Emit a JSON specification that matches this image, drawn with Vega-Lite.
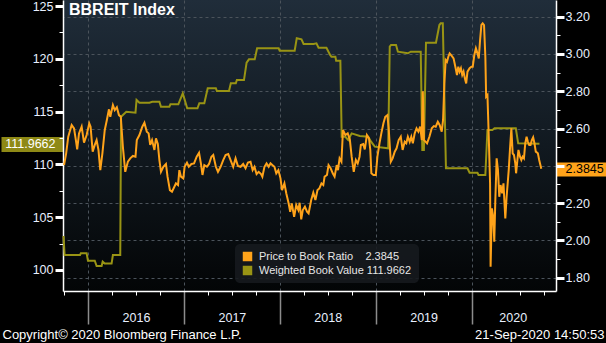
{
  "$schema": "https://vega.github.io/schema/vega-lite/v6.json",
  "width": 493,
  "height": 291,
  "autosize": {"type": "none"},
  "padding": {"left": 63, "top": 0, "right": 50, "bottom": 52},
  "background": "#000000",
  "title": {"text": "BBREIT Index", "anchor": "start", "frame": "group", "orient": "top", "offset": -31, "baseline": "alphabetic", "dx": 6, "color": "#ffffff", "font": "Liberation Sans", "fontSize": 16, "fontWeight": "bold"},
  "datasets": {
    "book": [
      {"date": "2015-09-29", "value": 103.22}, {"date": "2015-10-03", "value": 101.42}, {"date": "2015-12-01", "value": 101.42},
      {"date": "2015-12-04", "value": 101.58}, {"date": "2015-12-26", "value": 101.58}, {"date": "2015-12-31", "value": 100.88},
      {"date": "2016-01-26", "value": 100.88}, {"date": "2016-02-02", "value": 100.38}, {"date": "2016-02-21", "value": 100.38},
      {"date": "2016-02-25", "value": 100.79}, {"date": "2016-03-04", "value": 100.61}, {"date": "2016-03-30", "value": 100.61},
      {"date": "2016-04-04", "value": 101.42}, {"date": "2016-05-02", "value": 101.42}, {"date": "2016-05-05", "value": 114.52},
      {"date": "2016-05-25", "value": 114.99}, {"date": "2016-06-29", "value": 114.90}, {"date": "2016-07-03", "value": 116.10},
      {"date": "2016-07-14", "value": 115.84}, {"date": "2016-08-21", "value": 115.84}, {"date": "2016-09-01", "value": 115.93},
      {"date": "2016-09-28", "value": 115.93}, {"date": "2016-10-04", "value": 115.46}, {"date": "2016-11-05", "value": 115.46},
      {"date": "2016-11-09", "value": 115.69}, {"date": "2016-12-09", "value": 115.69}, {"date": "2016-12-26", "value": 116.73},
      {"date": "2017-01-12", "value": 115.31}, {"date": "2017-02-20", "value": 115.31}, {"date": "2017-02-27", "value": 115.79},
      {"date": "2017-03-18", "value": 115.79}, {"date": "2017-03-31", "value": 117.21}, {"date": "2017-05-01", "value": 117.21},
      {"date": "2017-05-05", "value": 116.95}, {"date": "2017-06-20", "value": 116.95}, {"date": "2017-06-27", "value": 117.68},
      {"date": "2017-07-16", "value": 117.68}, {"date": "2017-07-20", "value": 117.99}, {"date": "2017-08-16", "value": 117.99},
      {"date": "2017-08-26", "value": 119.63}, {"date": "2017-09-04", "value": 119.95}, {"date": "2017-09-26", "value": 119.95},
      {"date": "2017-10-05", "value": 120.99}, {"date": "2017-12-26", "value": 120.99}, {"date": "2017-12-30", "value": 120.77},
      {"date": "2018-02-25", "value": 120.77}, {"date": "2018-03-05", "value": 121.94}, {"date": "2018-03-23", "value": 121.84},
      {"date": "2018-03-31", "value": 121.40}, {"date": "2018-05-08", "value": 121.40}, {"date": "2018-05-19", "value": 121.46},
      {"date": "2018-05-27", "value": 121.05}, {"date": "2018-06-26", "value": 121.05}, {"date": "2018-07-10", "value": 120.36},
      {"date": "2018-07-15", "value": 120.20}, {"date": "2018-07-30", "value": 120.20}, {"date": "2018-08-02", "value": 119.82},
      {"date": "2018-08-18", "value": 119.82}, {"date": "2018-08-23", "value": 112.62}, {"date": "2018-09-06", "value": 112.62},
      {"date": "2018-09-17", "value": 112.31}, {"date": "2018-09-30", "value": 112.94}, {"date": "2018-10-31", "value": 112.69},
      {"date": "2018-12-02", "value": 112.62}, {"date": "2018-12-13", "value": 112.15}, {"date": "2018-12-27", "value": 111.68},
      {"date": "2019-02-16", "value": 111.52}, {"date": "2019-02-22", "value": 121.15}, {"date": "2019-02-27", "value": 121.31},
      {"date": "2019-03-18", "value": 121.31}, {"date": "2019-03-25", "value": 120.67}, {"date": "2019-05-02", "value": 120.52},
      {"date": "2019-05-13", "value": 120.67}, {"date": "2019-06-20", "value": 120.67}, {"date": "2019-06-26", "value": 111.36},
      {"date": "2019-07-02", "value": 111.36}, {"date": "2019-07-10", "value": 121.52}, {"date": "2019-08-17", "value": 121.52},
      {"date": "2019-08-30", "value": 123.20}, {"date": "2019-09-04", "value": 123.36}, {"date": "2019-09-12", "value": 123.36},
      {"date": "2019-09-24", "value": 109.63}, {"date": "2019-12-15", "value": 109.63}, {"date": "2019-12-23", "value": 109.21},
      {"date": "2020-01-22", "value": 109.21}, {"date": "2020-01-26", "value": 109.00}, {"date": "2020-02-21", "value": 109.00},
      {"date": "2020-02-29", "value": 113.26}, {"date": "2020-03-19", "value": 113.26}, {"date": "2020-03-27", "value": 113.42},
      {"date": "2020-06-16", "value": 113.42}, {"date": "2020-06-25", "value": 112.00}, {"date": "2020-09-14", "value": 111.9662}
    ],
    "ptb": [
      {"date": "2015-10-01", "value": 2.404}, {"date": "2015-10-09", "value": 2.467}, {"date": "2015-10-17", "value": 2.556},
      {"date": "2015-10-30", "value": 2.619}, {"date": "2015-11-08", "value": 2.601}, {"date": "2015-11-15", "value": 2.538},
      {"date": "2015-11-20", "value": 2.488}, {"date": "2015-11-27", "value": 2.574}, {"date": "2015-12-07", "value": 2.610},
      {"date": "2015-12-16", "value": 2.524}, {"date": "2015-12-26", "value": 2.565}, {"date": "2016-01-05", "value": 2.628},
      {"date": "2016-01-10", "value": 2.610}, {"date": "2016-01-18", "value": 2.476}, {"date": "2016-01-26", "value": 2.512},
      {"date": "2016-02-02", "value": 2.538}, {"date": "2016-02-09", "value": 2.485}, {"date": "2016-02-16", "value": 2.377},
      {"date": "2016-02-24", "value": 2.467}, {"date": "2016-03-04", "value": 2.592}, {"date": "2016-03-12", "value": 2.646},
      {"date": "2016-03-20", "value": 2.703}, {"date": "2016-03-25", "value": 2.663}, {"date": "2016-04-04", "value": 2.726},
      {"date": "2016-04-11", "value": 2.699}, {"date": "2016-04-19", "value": 2.714}, {"date": "2016-04-27", "value": 2.672},
      {"date": "2016-05-04", "value": 2.663}, {"date": "2016-05-12", "value": 2.502}, {"date": "2016-05-21", "value": 2.368},
      {"date": "2016-05-31", "value": 2.422}, {"date": "2016-06-09", "value": 2.440}, {"date": "2016-06-19", "value": 2.453},
      {"date": "2016-06-29", "value": 2.449}, {"date": "2016-07-04", "value": 2.538}, {"date": "2016-07-14", "value": 2.565},
      {"date": "2016-07-25", "value": 2.610}, {"date": "2016-08-02", "value": 2.631}, {"date": "2016-08-11", "value": 2.583},
      {"date": "2016-08-18", "value": 2.574}, {"date": "2016-08-24", "value": 2.512}, {"date": "2016-08-31", "value": 2.538},
      {"date": "2016-09-09", "value": 2.485}, {"date": "2016-09-15", "value": 2.547}, {"date": "2016-09-22", "value": 2.517},
      {"date": "2016-09-28", "value": 2.431}, {"date": "2016-10-04", "value": 2.368}, {"date": "2016-10-13", "value": 2.395},
      {"date": "2016-10-23", "value": 2.410}, {"date": "2016-10-29", "value": 2.342}, {"date": "2016-11-07", "value": 2.270},
      {"date": "2016-11-15", "value": 2.261}, {"date": "2016-11-24", "value": 2.288}, {"date": "2016-11-30", "value": 2.306},
      {"date": "2016-12-08", "value": 2.297}, {"date": "2016-12-13", "value": 2.377}, {"date": "2016-12-19", "value": 2.342},
      {"date": "2016-12-28", "value": 2.333}, {"date": "2017-01-02", "value": 2.395}, {"date": "2017-01-11", "value": 2.417},
      {"date": "2017-01-18", "value": 2.395}, {"date": "2017-01-28", "value": 2.410}, {"date": "2017-02-07", "value": 2.413},
      {"date": "2017-02-17", "value": 2.449}, {"date": "2017-02-26", "value": 2.470}, {"date": "2017-03-05", "value": 2.413},
      {"date": "2017-03-11", "value": 2.351}, {"date": "2017-03-18", "value": 2.404}, {"date": "2017-03-28", "value": 2.395},
      {"date": "2017-04-05", "value": 2.410}, {"date": "2017-04-14", "value": 2.449}, {"date": "2017-04-21", "value": 2.458},
      {"date": "2017-05-01", "value": 2.395}, {"date": "2017-05-09", "value": 2.368}, {"date": "2017-05-19", "value": 2.395},
      {"date": "2017-05-29", "value": 2.431}, {"date": "2017-06-07", "value": 2.458}, {"date": "2017-06-17", "value": 2.463},
      {"date": "2017-06-26", "value": 2.431}, {"date": "2017-07-06", "value": 2.395}, {"date": "2017-07-15", "value": 2.440},
      {"date": "2017-07-24", "value": 2.399}, {"date": "2017-08-03", "value": 2.395}, {"date": "2017-08-13", "value": 2.410},
      {"date": "2017-08-22", "value": 2.387}, {"date": "2017-08-31", "value": 2.417}, {"date": "2017-09-10", "value": 2.422},
      {"date": "2017-09-18", "value": 2.377}, {"date": "2017-09-25", "value": 2.395}, {"date": "2017-10-03", "value": 2.356},
      {"date": "2017-10-11", "value": 2.368}, {"date": "2017-10-20", "value": 2.356}, {"date": "2017-10-25", "value": 2.342},
      {"date": "2017-11-02", "value": 2.395}, {"date": "2017-11-10", "value": 2.413}, {"date": "2017-11-18", "value": 2.395},
      {"date": "2017-11-25", "value": 2.413}, {"date": "2017-12-02", "value": 2.404}, {"date": "2017-12-10", "value": 2.395},
      {"date": "2017-12-17", "value": 2.360}, {"date": "2017-12-25", "value": 2.377}, {"date": "2018-01-02", "value": 2.333},
      {"date": "2018-01-08", "value": 2.270}, {"date": "2018-01-17", "value": 2.306}, {"date": "2018-01-24", "value": 2.253},
      {"date": "2018-02-02", "value": 2.199}, {"date": "2018-02-08", "value": 2.154}, {"date": "2018-02-14", "value": 2.199},
      {"date": "2018-02-23", "value": 2.127}, {"date": "2018-03-03", "value": 2.190}, {"date": "2018-03-11", "value": 2.163},
      {"date": "2018-03-16", "value": 2.202}, {"date": "2018-03-22", "value": 2.113}, {"date": "2018-03-28", "value": 2.163},
      {"date": "2018-04-05", "value": 2.181}, {"date": "2018-04-13", "value": 2.154}, {"date": "2018-04-19", "value": 2.145},
      {"date": "2018-04-29", "value": 2.217}, {"date": "2018-05-07", "value": 2.256}, {"date": "2018-05-15", "value": 2.217},
      {"date": "2018-05-23", "value": 2.270}, {"date": "2018-05-30", "value": 2.279}, {"date": "2018-06-07", "value": 2.306},
      {"date": "2018-06-14", "value": 2.297}, {"date": "2018-06-19", "value": 2.342}, {"date": "2018-06-28", "value": 2.351},
      {"date": "2018-07-04", "value": 2.404}, {"date": "2018-07-12", "value": 2.387}, {"date": "2018-07-20", "value": 2.360},
      {"date": "2018-07-27", "value": 2.342}, {"date": "2018-08-04", "value": 2.404}, {"date": "2018-08-09", "value": 2.377},
      {"date": "2018-08-15", "value": 2.440}, {"date": "2018-08-22", "value": 2.422}, {"date": "2018-08-28", "value": 2.592},
      {"date": "2018-09-06", "value": 2.565}, {"date": "2018-09-15", "value": 2.574}, {"date": "2018-09-23", "value": 2.542},
      {"date": "2018-09-30", "value": 2.449}, {"date": "2018-10-08", "value": 2.368}, {"date": "2018-10-16", "value": 2.431},
      {"date": "2018-10-23", "value": 2.413}, {"date": "2018-10-30", "value": 2.449}, {"date": "2018-11-04", "value": 2.512},
      {"date": "2018-11-13", "value": 2.517}, {"date": "2018-11-19", "value": 2.488}, {"date": "2018-11-27", "value": 2.565},
      {"date": "2018-12-05", "value": 2.547}, {"date": "2018-12-10", "value": 2.485}, {"date": "2018-12-14", "value": 2.360},
      {"date": "2018-12-22", "value": 2.351}, {"date": "2018-12-31", "value": 2.351}, {"date": "2019-01-06", "value": 2.449},
      {"date": "2019-01-14", "value": 2.521}, {"date": "2019-01-21", "value": 2.574}, {"date": "2019-01-29", "value": 2.628},
      {"date": "2019-02-05", "value": 2.663}, {"date": "2019-02-13", "value": 2.672}, {"date": "2019-02-18", "value": 2.601},
      {"date": "2019-02-26", "value": 2.422}, {"date": "2019-03-05", "value": 2.440}, {"date": "2019-03-13", "value": 2.476},
      {"date": "2019-03-20", "value": 2.494}, {"date": "2019-03-28", "value": 2.538}, {"date": "2019-04-05", "value": 2.556},
      {"date": "2019-04-12", "value": 2.485}, {"date": "2019-04-20", "value": 2.529}, {"date": "2019-04-26", "value": 2.521},
      {"date": "2019-05-02", "value": 2.556}, {"date": "2019-05-09", "value": 2.529}, {"date": "2019-05-15", "value": 2.556},
      {"date": "2019-05-21", "value": 2.521}, {"date": "2019-05-28", "value": 2.574}, {"date": "2019-06-04", "value": 2.601},
      {"date": "2019-06-11", "value": 2.583}, {"date": "2019-06-18", "value": 2.610}, {"date": "2019-06-24", "value": 2.538},
      {"date": "2019-06-28", "value": 2.800}, {"date": "2019-07-02", "value": 2.538}, {"date": "2019-07-08", "value": 2.530},
      {"date": "2019-07-14", "value": 2.521}, {"date": "2019-07-23", "value": 2.556}, {"date": "2019-08-01", "value": 2.601},
      {"date": "2019-08-09", "value": 2.613}, {"date": "2019-08-16", "value": 2.610}, {"date": "2019-08-24", "value": 2.636},
      {"date": "2019-08-31", "value": 2.619}, {"date": "2019-09-08", "value": 2.583}, {"date": "2019-09-13", "value": 2.646},
      {"date": "2019-09-18", "value": 2.842}, {"date": "2019-09-23", "value": 2.967}, {"date": "2019-09-28", "value": 2.958},
      {"date": "2019-10-03", "value": 2.985}, {"date": "2019-10-08", "value": 3.003}, {"date": "2019-10-16", "value": 2.989},
      {"date": "2019-10-23", "value": 2.976}, {"date": "2019-10-31", "value": 2.923}, {"date": "2019-11-05", "value": 2.887},
      {"date": "2019-11-10", "value": 2.931}, {"date": "2019-11-15", "value": 2.905}, {"date": "2019-11-20", "value": 2.923},
      {"date": "2019-11-25", "value": 2.887}, {"date": "2019-11-30", "value": 2.905}, {"date": "2019-12-05", "value": 2.869},
      {"date": "2019-12-10", "value": 2.842}, {"date": "2019-12-15", "value": 2.905}, {"date": "2019-12-23", "value": 2.923},
      {"date": "2019-12-30", "value": 2.931}, {"date": "2020-01-04", "value": 2.931}, {"date": "2020-01-10", "value": 2.994},
      {"date": "2020-01-16", "value": 3.030}, {"date": "2020-01-22", "value": 3.003}, {"date": "2020-01-27", "value": 2.976},
      {"date": "2020-02-01", "value": 3.075}, {"date": "2020-02-06", "value": 3.155}, {"date": "2020-02-11", "value": 3.164},
      {"date": "2020-02-16", "value": 3.155}, {"date": "2020-02-21", "value": 2.985}, {"date": "2020-02-24", "value": 2.771},
      {"date": "2020-02-29", "value": 2.780}, {"date": "2020-03-05", "value": 2.556}, {"date": "2020-03-10", "value": 2.306},
      {"date": "2020-03-12", "value": 1.859}, {"date": "2020-03-17", "value": 2.172}, {"date": "2020-03-22", "value": 2.127},
      {"date": "2020-03-26", "value": 1.993}, {"date": "2020-03-30", "value": 2.217}, {"date": "2020-04-04", "value": 2.440},
      {"date": "2020-04-09", "value": 2.377}, {"date": "2020-04-14", "value": 2.234}, {"date": "2020-04-19", "value": 2.297},
      {"date": "2020-04-25", "value": 2.253}, {"date": "2020-04-30", "value": 2.306}, {"date": "2020-05-07", "value": 2.118},
      {"date": "2020-05-12", "value": 2.234}, {"date": "2020-05-20", "value": 2.377}, {"date": "2020-05-25", "value": 2.494},
      {"date": "2020-05-30", "value": 2.601}, {"date": "2020-06-04", "value": 2.467}, {"date": "2020-06-09", "value": 2.458},
      {"date": "2020-06-14", "value": 2.413}, {"date": "2020-06-17", "value": 2.360}, {"date": "2020-06-22", "value": 2.431},
      {"date": "2020-06-26", "value": 2.485}, {"date": "2020-07-02", "value": 2.449}, {"date": "2020-07-07", "value": 2.431},
      {"date": "2020-07-12", "value": 2.449}, {"date": "2020-07-17", "value": 2.440}, {"date": "2020-07-22", "value": 2.521},
      {"date": "2020-07-27", "value": 2.556}, {"date": "2020-08-01", "value": 2.529}, {"date": "2020-08-06", "value": 2.512},
      {"date": "2020-08-11", "value": 2.512}, {"date": "2020-08-16", "value": 2.538}, {"date": "2020-08-21", "value": 2.553},
      {"date": "2020-08-26", "value": 2.521}, {"date": "2020-08-31", "value": 2.476}, {"date": "2020-09-08", "value": 2.467},
      {"date": "2020-09-13", "value": 2.431}, {"date": "2020-09-21", "value": 2.3845}
    ]
  },
  "layer": [
    {
      "data": {"name": "book"},
      "mark": {"type": "line", "strokeWidth": 2},
      "encoding": {
        "x": {
          "field": "date", "type": "temporal",
          "scale": {"domain": [{"year": 2015, "month": 9, "date": 27}, {"year": 2020, "month": 11, "date": 16}]},
          "axis": {
            "orient": "bottom",
            "tickCount": {"interval": "month", "step": 3},
            "labelExpr": "month(datum.value)==6 ? timeFormat(datum.value,'%Y') : ''",
            "labelOverlap": false, "labelFlush": false, "labelBound": false,
            "labelColor": "#e8f0ff", "labelFontSize": 12.5, "labelFont": "Liberation Sans",
            "labelPadding": 16,
            "labelOffset": {"condition": {"test": "year(datum.value)==2020", "value": -7}, "value": 0},
            "tickSize": {"condition": {"test": "month(datum.value)==0", "value": 33}, "value": 4},
            "tickColor": {"condition": {"test": "month(datum.value)==0", "value": "#8c8c8c"}, "value": "#ffffff"},
            "tickWidth": {"condition": {"test": "month(datum.value)==0", "value": 1.5}, "value": 1},
            "grid": true, "gridColor": "#4b535b", "gridDash": [3, 3], "gridWidth": 1,
            "gridOpacity": {"condition": {"test": "month(datum.value)==0", "value": 1}, "value": 0},
            "domainColor": "#ffffff", "domainWidth": 1.5,
            "title": "21-Sep-2020 14:50:53",
            "titleX": 541, "titleY": 47, "titleAlign": "right", "titleAnchor": "end", "titleBaseline": "alphabetic",
            "titleColor": "#ffffff", "titleFont": "Liberation Sans", "titleFontSize": 13, "titleFontWeight": "normal"
          }
        },
        "y": {
          "field": "value", "type": "quantitative",
          "scale": {"domain": [98.01, 125.57], "nice": false, "zero": false},
          "axis": {
            "orient": "left",
            "values": [100, 102.5, 105, 107.5, 110, 112.5, 115, 117.5, 120, 122.5, 125, 111.9662],
            "labelExpr": "abs(datum.value-111.9662)<0.0001 ? '111.9662' : (datum.value%5==0 ? format(datum.value,'d') : '')",
            "labelOverlap": false,
            "labelFont": "Liberation Sans", "labelFontSize": 12.5,
            "labelColor": {"condition": {"test": "abs(datum.value-111.9662)<0.0001", "value": "#ffffff"}, "value": "#e8f0ff"},
            "tickSize": {"condition": [{"test": "abs(datum.value-111.9662)<0.0001", "value": 62}, {"test": "datum.value%5==0", "value": 8}], "value": 4},
            "tickWidth": {"condition": [{"test": "abs(datum.value-111.9662)<0.0001", "value": 15}, {"test": "datum.value%5==0", "value": 3}], "value": 1},
            "tickColor": {"condition": {"test": "abs(datum.value-111.9662)<0.0001", "value": "#8e8916"}, "value": "#ffffff"},
            "labelPadding": {"condition": {"test": "abs(datum.value-111.9662)<0.0001", "value": -54}, "value": 2},
            "grid": false,
            "domainColor": "#ffffff", "domainWidth": 1.5,
            "title": "Copyright© 2020 Bloomberg Finance L.P.",
            "titleAngle": 0, "titleX": -61, "titleY": 338, "titleAlign": "left", "titleBaseline": "alphabetic",
            "titleColor": "#ffffff", "titleFont": "Liberation Sans", "titleFontSize": 13, "titleFontWeight": "normal"
          }
        },
        "color": {
          "datum": "Weighted Book Value",
          "scale": {"domain": ["Price to Book Ratio", "Weighted Book Value"], "range": ["#ffa31a", "#999414"]},
          "legend": {
            "orient": "none", "legendX": 172, "legendY": 244, "title": null,
            "symbolType": "square", "symbolSize": 90, "symbolStrokeWidth": 0,
            "labelExpr": "datum.label=='Price to Book Ratio' ? 'Price to Book Ratio\u00a0\u00a0\u00a0\u00a02.3845' : 'Weighted Book Value\u00a0111.9662'",
            "labelColor": "#e6e6e6", "labelFont": "Liberation Sans", "labelFontSize": 11,
            "labelOffset": 6, "rowPadding": 2, "padding": 7,
            "fillColor": "rgba(22,26,30,0.9)", "cornerRadius": 5,
            "encode": {"symbols": {"update": {"fill": {"scale": "color", "field": "value"}, "opacity": {"value": 1}}}}
          }
        }
      }
    },
    {
      "data": {"name": "ptb"},
      "mark": {"type": "line", "strokeWidth": 2},
      "encoding": {
        "x": {
          "field": "date", "type": "temporal",
          "scale": {"domain": [{"year": 2015, "month": 9, "date": 27}, {"year": 2020, "month": 11, "date": 16}]}
        },
        "y": {
          "field": "value", "type": "quantitative",
          "scale": {"domain": [1.729, 3.289], "nice": false, "zero": false},
          "axis": {
            "orient": "right",
            "values": [1.8, 1.9, 2.0, 2.1, 2.2, 2.3, 2.4, 2.5, 2.6, 2.7, 2.8, 2.9, 3.0, 3.1, 3.2, 2.3845],
            "labelExpr": "abs(datum.value-2.3845)<0.0001 ? '2.3845' : ((abs(datum.value*5-round(datum.value*5))<0.001 && abs(datum.value-2.4)>0.001) ? format(datum.value,'.2f') : '')",
            "labelOverlap": false,
            "labelFont": "Liberation Sans", "labelFontSize": 12.5,
            "labelColor": {"condition": {"test": "abs(datum.value-2.3845)<0.0001", "value": "#000000"}, "value": "#e8f0ff"},
            "tickSize": {"condition": [{"test": "abs(datum.value-2.3845)<0.0001", "value": 50}, {"test": "abs(datum.value*5-round(datum.value*5))<0.001", "value": 8}], "value": 4},
            "tickWidth": {"condition": [{"test": "abs(datum.value-2.3845)<0.0001", "value": 14}, {"test": "abs(datum.value*5-round(datum.value*5))<0.001", "value": 3}], "value": 1},
            "tickColor": {"condition": {"test": "abs(datum.value-2.3845)<0.0001", "value": "#ffa31a"}, "value": "#ffffff"},
            "labelPadding": {"condition": {"test": "abs(datum.value-2.3845)<0.0001", "value": -41}, "value": 1},
            "grid": true, "gridColor": "#4b535b", "gridDash": [3, 3], "gridWidth": 1,
            "gridOpacity": {"condition": [{"test": "abs(datum.value-2.3845)<0.0001", "value": 0}, {"test": "abs(datum.value*5-round(datum.value*5))<0.001", "value": 1}], "value": 0},
            "domainColor": "#ffffff", "domainWidth": 1.5,
            "title": null
          }
        },
        "color": {
          "datum": "Price to Book Ratio",
          "scale": {"domain": ["Price to Book Ratio", "Weighted Book Value"], "range": ["#ffa31a", "#999414"]}
        }
      }
    }
  ],
  "resolve": {"scale": {"y": "independent"}},
  "config": {
    "font": "Liberation Sans",
    "view": {
      "stroke": null,
      "fill": {"gradient": "linear", "x1": 0, "y1": 0, "x2": 0, "y2": 1, "stops": [{"offset": 0, "color": "#202d3a"}, {"offset": 0.5, "color": "#111920"}, {"offset": 1, "color": "#030506"}]}
    }
  }
}
